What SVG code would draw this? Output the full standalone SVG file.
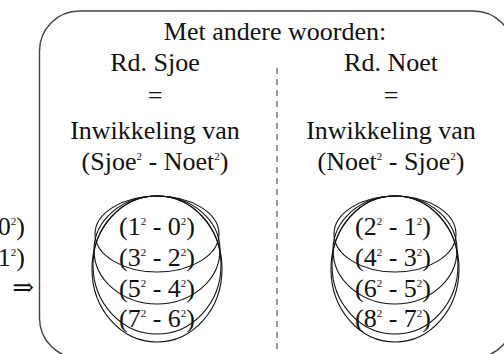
<svg xmlns="http://www.w3.org/2000/svg" width="504" height="354" viewBox="0 0 504 354">
<style>
text{font-size:26px;fill:#111;text-anchor:middle}
.sup{font-size:11px}
.frame{fill:none;stroke:#444;stroke-width:1.4}
.div{fill:none;stroke:#555;stroke-width:1.2;stroke-dasharray:6 5}
.ring{fill:none;stroke:#111;stroke-width:1.1}
</style>
<rect width="504" height="354" fill="#fff"/>
<g font-family="'Liberation Serif', 'Times New Roman', Tinos, 'DejaVu Serif', serif">
<g id="outside">
<text x="25" y="235" style="text-anchor:end">0<tspan class="sup" dy="-10">2</tspan><tspan dy="10">)</tspan></text>
<text x="25" y="266" style="text-anchor:end">1<tspan class="sup" dy="-10">2</tspan><tspan dy="10">)</tspan></text>
<text x="34" y="296" style="text-anchor:end">⇒</text>
</g>
<g id="frame"><rect class="frame" x="39.5" y="11" width="474" height="347" rx="40" ry="40"/></g>
<g id="divider"><line class="div" x1="277" y1="68" x2="277" y2="354"/></g>
<g id="header"><text x="275" y="40">Met andere woorden:</text></g>
<g id="left-column">
<text x="155" y="71">Rd. Sjoe</text>
<text x="155" y="104">=</text>
<text x="155" y="139">Inwikkeling van</text>
<text x="155" y="170">(Sjoe<tspan class="sup" dy="-10">2</tspan><tspan dy="10"> - Noet</tspan><tspan class="sup" dy="-10">2</tspan><tspan dy="10">)</tspan></text>
</g>
<g id="right-column">
<text x="391" y="71">Rd. Noet</text>
<text x="391" y="104">=</text>
<text x="391" y="139">Inwikkeling van</text>
<text x="391" y="170">(Noet<tspan class="sup" dy="-10">2</tspan><tspan dy="10"> - Sjoe</tspan><tspan class="sup" dy="-10">2</tspan><tspan dy="10">)</tspan></text>
</g>
<g id="left-rings">
<ellipse class="ring" cx="157" cy="234" rx="62" ry="38"/>
<ellipse class="ring" cx="157" cy="250" rx="63" ry="54"/>
<ellipse class="ring" cx="157" cy="265" rx="64" ry="69"/>
<ellipse class="ring" cx="157" cy="269" rx="65" ry="73"/>
<text x="157" y="235">(1<tspan class="sup" dy="-10">2</tspan><tspan dy="10"> - 0</tspan><tspan class="sup" dy="-10">2</tspan><tspan dy="10">)</tspan></text>
<text x="157" y="266">(3<tspan class="sup" dy="-10">2</tspan><tspan dy="10"> - 2</tspan><tspan class="sup" dy="-10">2</tspan><tspan dy="10">)</tspan></text>
<text x="157" y="297">(5<tspan class="sup" dy="-10">2</tspan><tspan dy="10"> - 4</tspan><tspan class="sup" dy="-10">2</tspan><tspan dy="10">)</tspan></text>
<text x="157" y="327">(7<tspan class="sup" dy="-10">2</tspan><tspan dy="10"> - 6</tspan><tspan class="sup" dy="-10">2</tspan><tspan dy="10">)</tspan></text>
</g>
<g id="right-rings">
<ellipse class="ring" cx="395" cy="234" rx="61" ry="38"/>
<ellipse class="ring" cx="395" cy="250" rx="62" ry="54"/>
<ellipse class="ring" cx="395" cy="265" rx="63" ry="69"/>
<ellipse class="ring" cx="395" cy="269" rx="64" ry="73"/>
<text x="393" y="235">(2<tspan class="sup" dy="-10">2</tspan><tspan dy="10"> - 1</tspan><tspan class="sup" dy="-10">2</tspan><tspan dy="10">)</tspan></text>
<text x="393" y="266">(4<tspan class="sup" dy="-10">2</tspan><tspan dy="10"> - 3</tspan><tspan class="sup" dy="-10">2</tspan><tspan dy="10">)</tspan></text>
<text x="393" y="297">(6<tspan class="sup" dy="-10">2</tspan><tspan dy="10"> - 5</tspan><tspan class="sup" dy="-10">2</tspan><tspan dy="10">)</tspan></text>
<text x="393" y="327">(8<tspan class="sup" dy="-10">2</tspan><tspan dy="10"> - 7</tspan><tspan class="sup" dy="-10">2</tspan><tspan dy="10">)</tspan></text>
</g>
</g>
</svg>
